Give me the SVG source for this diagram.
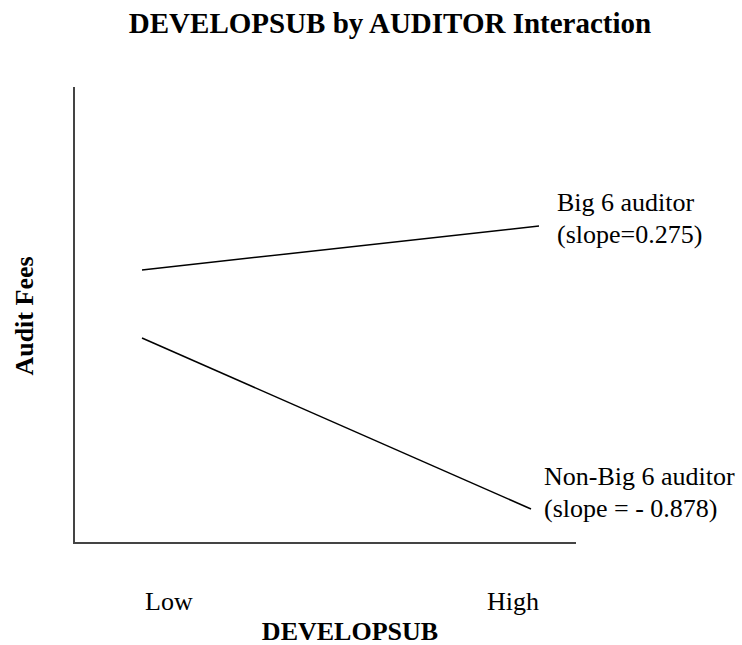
<svg xmlns="http://www.w3.org/2000/svg" width="742" height="645" viewBox="0 0 742 645">
<style>
text{font-family:"Liberation Serif","Times New Roman",serif;fill:#000}
.b{font-weight:bold}
.l{font-size:26px}
.axis{stroke:#444;stroke-width:2;fill:none}
.ln{stroke:#000;stroke-width:1.5;fill:none}
</style>
<rect width="742" height="645" fill="#fff"/>
<g id="title"><text class="b" x="390" y="33" font-size="29" text-anchor="middle">DEVELOPSUB by AUDITOR Interaction</text></g>
<g id="axes">
<line class="axis" x1="74" y1="87" x2="74" y2="544"/>
<line class="axis" x1="73" y1="543" x2="576" y2="543"/>
</g>
<g id="y-label"><text class="b l" transform="translate(33,316) rotate(-90)" text-anchor="middle">Audit Fees</text></g>
<g id="x-label">
<text class="l" x="145" y="610">Low</text>
<text class="l" x="487" y="610">High</text>
<text class="b l" x="350" y="640" text-anchor="middle">DEVELOPSUB</text>
</g>
<g id="connectors">
<line class="ln" x1="142" y1="270" x2="539" y2="226"/>
<line class="ln" x1="142" y1="338" x2="531" y2="509"/>
</g>
<g id="big6"><text class="l" x="557" y="211">Big 6 auditor</text><text class="l" x="557" y="243">(slope=0.275)</text></g>
<g id="nonbig6"><text class="l" x="544" y="485">Non-Big 6 auditor</text><text class="l" x="544" y="517">(slope = - 0.878)</text></g>
</svg>
